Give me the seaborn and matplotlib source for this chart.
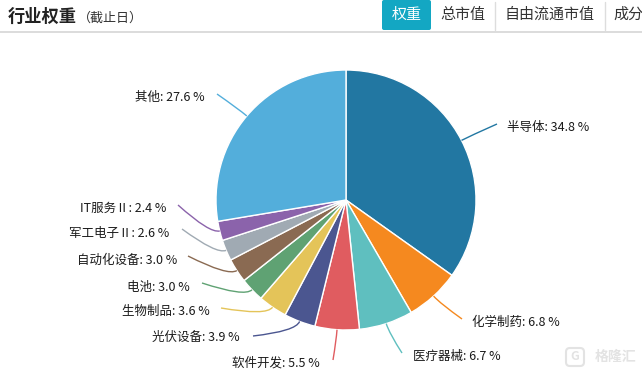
import matplotlib
matplotlib.use("Agg")
import matplotlib.pyplot as plt
import matplotlib.patches as mpatches
from matplotlib.path import Path
import numpy as np
import seaborn as sns

# ---------------- data ----------------
categories = ["半导体", "化学制药", "医疗器械", "软件开发", "光伏设备", "生物制品",
              "电池", "自动化设备", "军工电子Ⅱ", "IT服务Ⅱ", "其他"]
weights = [34.8, 6.8, 6.7, 5.5, 3.9, 3.6, 3.0, 3.0, 2.6, 2.4, 27.6]
colors = ["#2277a2", "#f5891f", "#5fbfbf", "#e05c60", "#4b5690", "#e4c459",
          "#5fa273", "#8a6a52", "#a0aab3", "#8b63ab", "#53aedb"]
title = "行业权重"
subtitle = "（截止日）"
tabs = ["权重", "总市值", "自由流通市值", "成分"]

# ---------------- layout (pixels) ----------------
W, H = 642, 376
CX, CY, R = 346, 200, 130
# label line end point and text anchor (pixel coords), alignment
label_layout = [
    ((497, 124), (507, 127), "left"),
    ((462, 319), (472, 322), "left"),
    ((402, 353), (413, 356), "left"),
    ((333, 360), (320, 363), "right"),
    ((253, 336), (240, 337), "right"),
    ((221, 308), (210, 311), "right"),
    ((202, 283), (190, 287), "right"),
    ((188, 256), (177, 260), "right"),
    ((182, 229), (169, 233), "right"),
    ((178, 205), (166, 208), "right"),
    ((217, 94), (205, 97), "right"),
]

sns.set_theme(style="white")
plt.rcParams["font.family"] = ["Noto Sans CJK SC", "DejaVu Sans"]


def P(px, py):
    return ((px - CX) / R, (CY - py) / R)


fig = plt.figure(figsize=(W / 100, H / 100), dpi=100)
ax = fig.add_axes([0, 0, 1, 1])
ax.axis("off")

wedges, _ = ax.pie(weights, colors=colors, startangle=90, counterclock=False,
                   radius=1, center=(0, 0),
                   wedgeprops=dict(edgecolor="white", linewidth=1.0))
ax.set_xlim(-CX / R, (W - CX) / R)
ax.set_ylim((CY - H) / R, CY / R)
ax.set_aspect("equal")

total = sum(weights)
cum = 0.0
for cat, w, col, (lend, tpos, ha) in zip(categories, weights, colors, label_layout):
    mid = (cum + w / 2) / total * 2 * np.pi
    cum += w
    sx, sy = np.sin(mid), np.cos(mid)
    p0 = (sx * 1.0, sy * 1.0)
    p1 = (sx * 1.08, sy * 1.08)
    p2 = P(*lend)
    path = Path([p0, p1, p2], [Path.MOVETO, Path.CURVE3, Path.CURVE3])
    ax.add_patch(mpatches.PathPatch(path, fill=False, edgecolor=col, lw=1.0))
    tx, ty = P(*tpos)
    ax.text(tx, ty, f"{cat}: {w:.1f} %", ha=ha, va="center",
            fontsize=9, color="#1a1a1a")

# ---------------- header ----------------
tx, ty = P(8, 17)
ax.text(tx, ty, title, fontsize=12.4, fontweight="bold", color="#222222",
        ha="left", va="center")
tx, ty = P(78, 18)
ax.text(tx, ty, subtitle, fontsize=9.4, color="#333333", ha="left", va="center")

# bottom rule of header
x0, y0 = P(0, 32)
x1, _ = P(W, 32)
ax.plot([x0, x1], [y0, y0], color="#d6d6d6", lw=1.2)

tab_edges = [382, 431, 495, 605, 700]
for i, name in enumerate(tabs):
    l, r = tab_edges[i], tab_edges[i + 1]
    bl = P(l, 30)
    tr = P(r, 0)
    if i == 0:
        ax.add_patch(mpatches.FancyBboxPatch(
            bl, tr[0] - bl[0], tr[1] - bl[1],
            boxstyle="round,pad=0,rounding_size=0.015",
            facecolor="#13a7c3", edgecolor="none"))
        c = "white"
    else:
        c = "#333333"
        sx0, sy0 = P(r, 2)
        sx1, sy1 = P(r, 30)
        if r < W:
            ax.plot([sx0, sx1], [sy0, sy1], color="#dddddd", lw=1.0)
    tx, ty = P(l + 8 if i == 3 else (l + r) / 2, 15)
    ax.text(tx, ty, name, fontsize=10.8, color=c,
            ha="left" if i == 3 else "center", va="center")

# watermark
tx, ty = P(595, 357)
ax.text(tx, ty, "格隆汇", fontsize=10, color="#e3e3e3", ha="left",
        va="center", fontweight="bold")
bx, by = P(566, 366)
bw = 18 / R
ax.add_patch(mpatches.FancyBboxPatch((bx, by), bw, bw,
             boxstyle="round,pad=0,rounding_size=0.03",
             facecolor="none", edgecolor="#e3e3e3", lw=1.5))
tx, ty = P(575, 357)
ax.text(tx, ty, "G", fontsize=9, color="#e3e3e3", ha="center", va="center",
        fontweight="bold")

fig.savefig("out.png", dpi=100)
